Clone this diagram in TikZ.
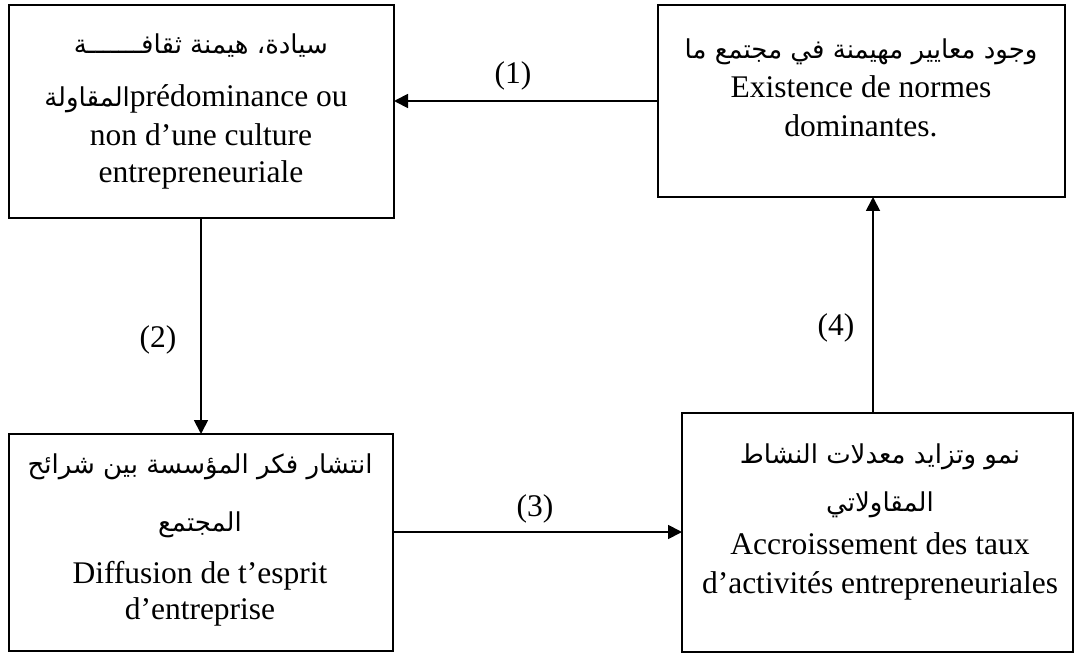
\documentclass[tikz,border=0pt]{standalone}
\usepackage{fontspec}
\setmainfont{Liberation Serif}
\newfontfamily\arabicfont[Script=Arabic]{DejaVu Sans}
\TeXXeTstate=1
\usetikzlibrary{arrows.meta}

\begin{document}
\begin{tikzpicture}[x=1pt,y=-1pt,
  box/.style={draw, line width=1.8pt, inner sep=0pt, outer sep=0pt},
  arr/.style={line width=1.8pt, -{Triangle[length=14pt,width=14pt]}},
  txt/.style={anchor=base, inner sep=0pt, font=\fontsize{31.5}{37}\selectfont},
  ar/.style={anchor=base, inner sep=0pt, font=\arabicfont\fontsize{26}{30}\selectfont},
  num/.style={anchor=base, inner sep=0pt, font=\fontsize{31.5}{37}\selectfont}]
\useasboundingbox (0,0) rectangle (1087,655);

% frames
\node[box, minimum width=385pt, minimum height=213pt] (A) at (201.5,111.5) {};
\node[box, minimum width=407pt, minimum height=192pt] (B) at (861.5,101) {};
\node[box, minimum width=384pt, minimum height=217pt] (C) at (201,542.5) {};
\node[box, minimum width=391pt, minimum height=239pt] (D) at (877.5,532.5) {};

% texts of the top-left box
\node[ar] (a1) at (201,54) {\beginR سيادة، هيمنة ثقافـــــــة\endR};
\node[txt] (a2) at (196,107) {{\arabicfont\fontsize{26}{30}\selectfont\beginR المقاولة\endR}prédominance ou};
\node[txt] (a3) at (201,146) {non d’une culture};
\node[txt] (a4) at (201,183) {entrepreneuriale};

% texts of the top-right box
\node[ar] (b1) at (861,59) {\beginR وجود معايير مهيمنة في مجتمع ما\endR};
\node[txt] (b2) at (861,98) {Existence de normes};
\node[txt] (b3) at (861,137) {dominantes.};

% texts of the bottom-left box
\node[ar] (c1) at (200,473) {\beginR انتشار فكر المؤسسة بين شرائح\endR};
\node[ar] (c2) at (200,531) {\beginR المجتمع\endR};
\node[txt] (c3) at (200,583) {Diffusion de t’esprit};
\node[txt] (c4) at (200,619) {d’entreprise};

% texts of the bottom-right box
\node[ar] (d1) at (880,463) {\beginR نمو وتزايد معدلات النشاط\endR};
\node[ar] (d2) at (880,511) {\beginR المقاولاتي\endR};
\node[txt] (d3) at (880,554) {Accroissement des taux};
\node[txt] (d4) at (880,593) {d’activités entrepreneuriales};

% connectors
\draw[arr] (B.west) -- (B.west -| A.east);
\draw[arr] ([xshift=-0.5pt]A.south) -- ([xshift=-0.5pt]A.south |- C.north);
\draw[arr] ([yshift=0.5pt]C.east |- D.west) -- ([yshift=0.5pt]D.west);
\draw[arr] ([xshift=-4.5pt]D.north) -- ([xshift=-4.5pt]D.north |- B.south);

% connector labels
\node[num] (n1) at (513,84) {(1)};
\node[num] (n2) at (158,347) {(2)};
\node[num] (n3) at (535,516) {(3)};
\node[num] (n4) at (836,335) {(4)};
\end{tikzpicture}
\end{document}
